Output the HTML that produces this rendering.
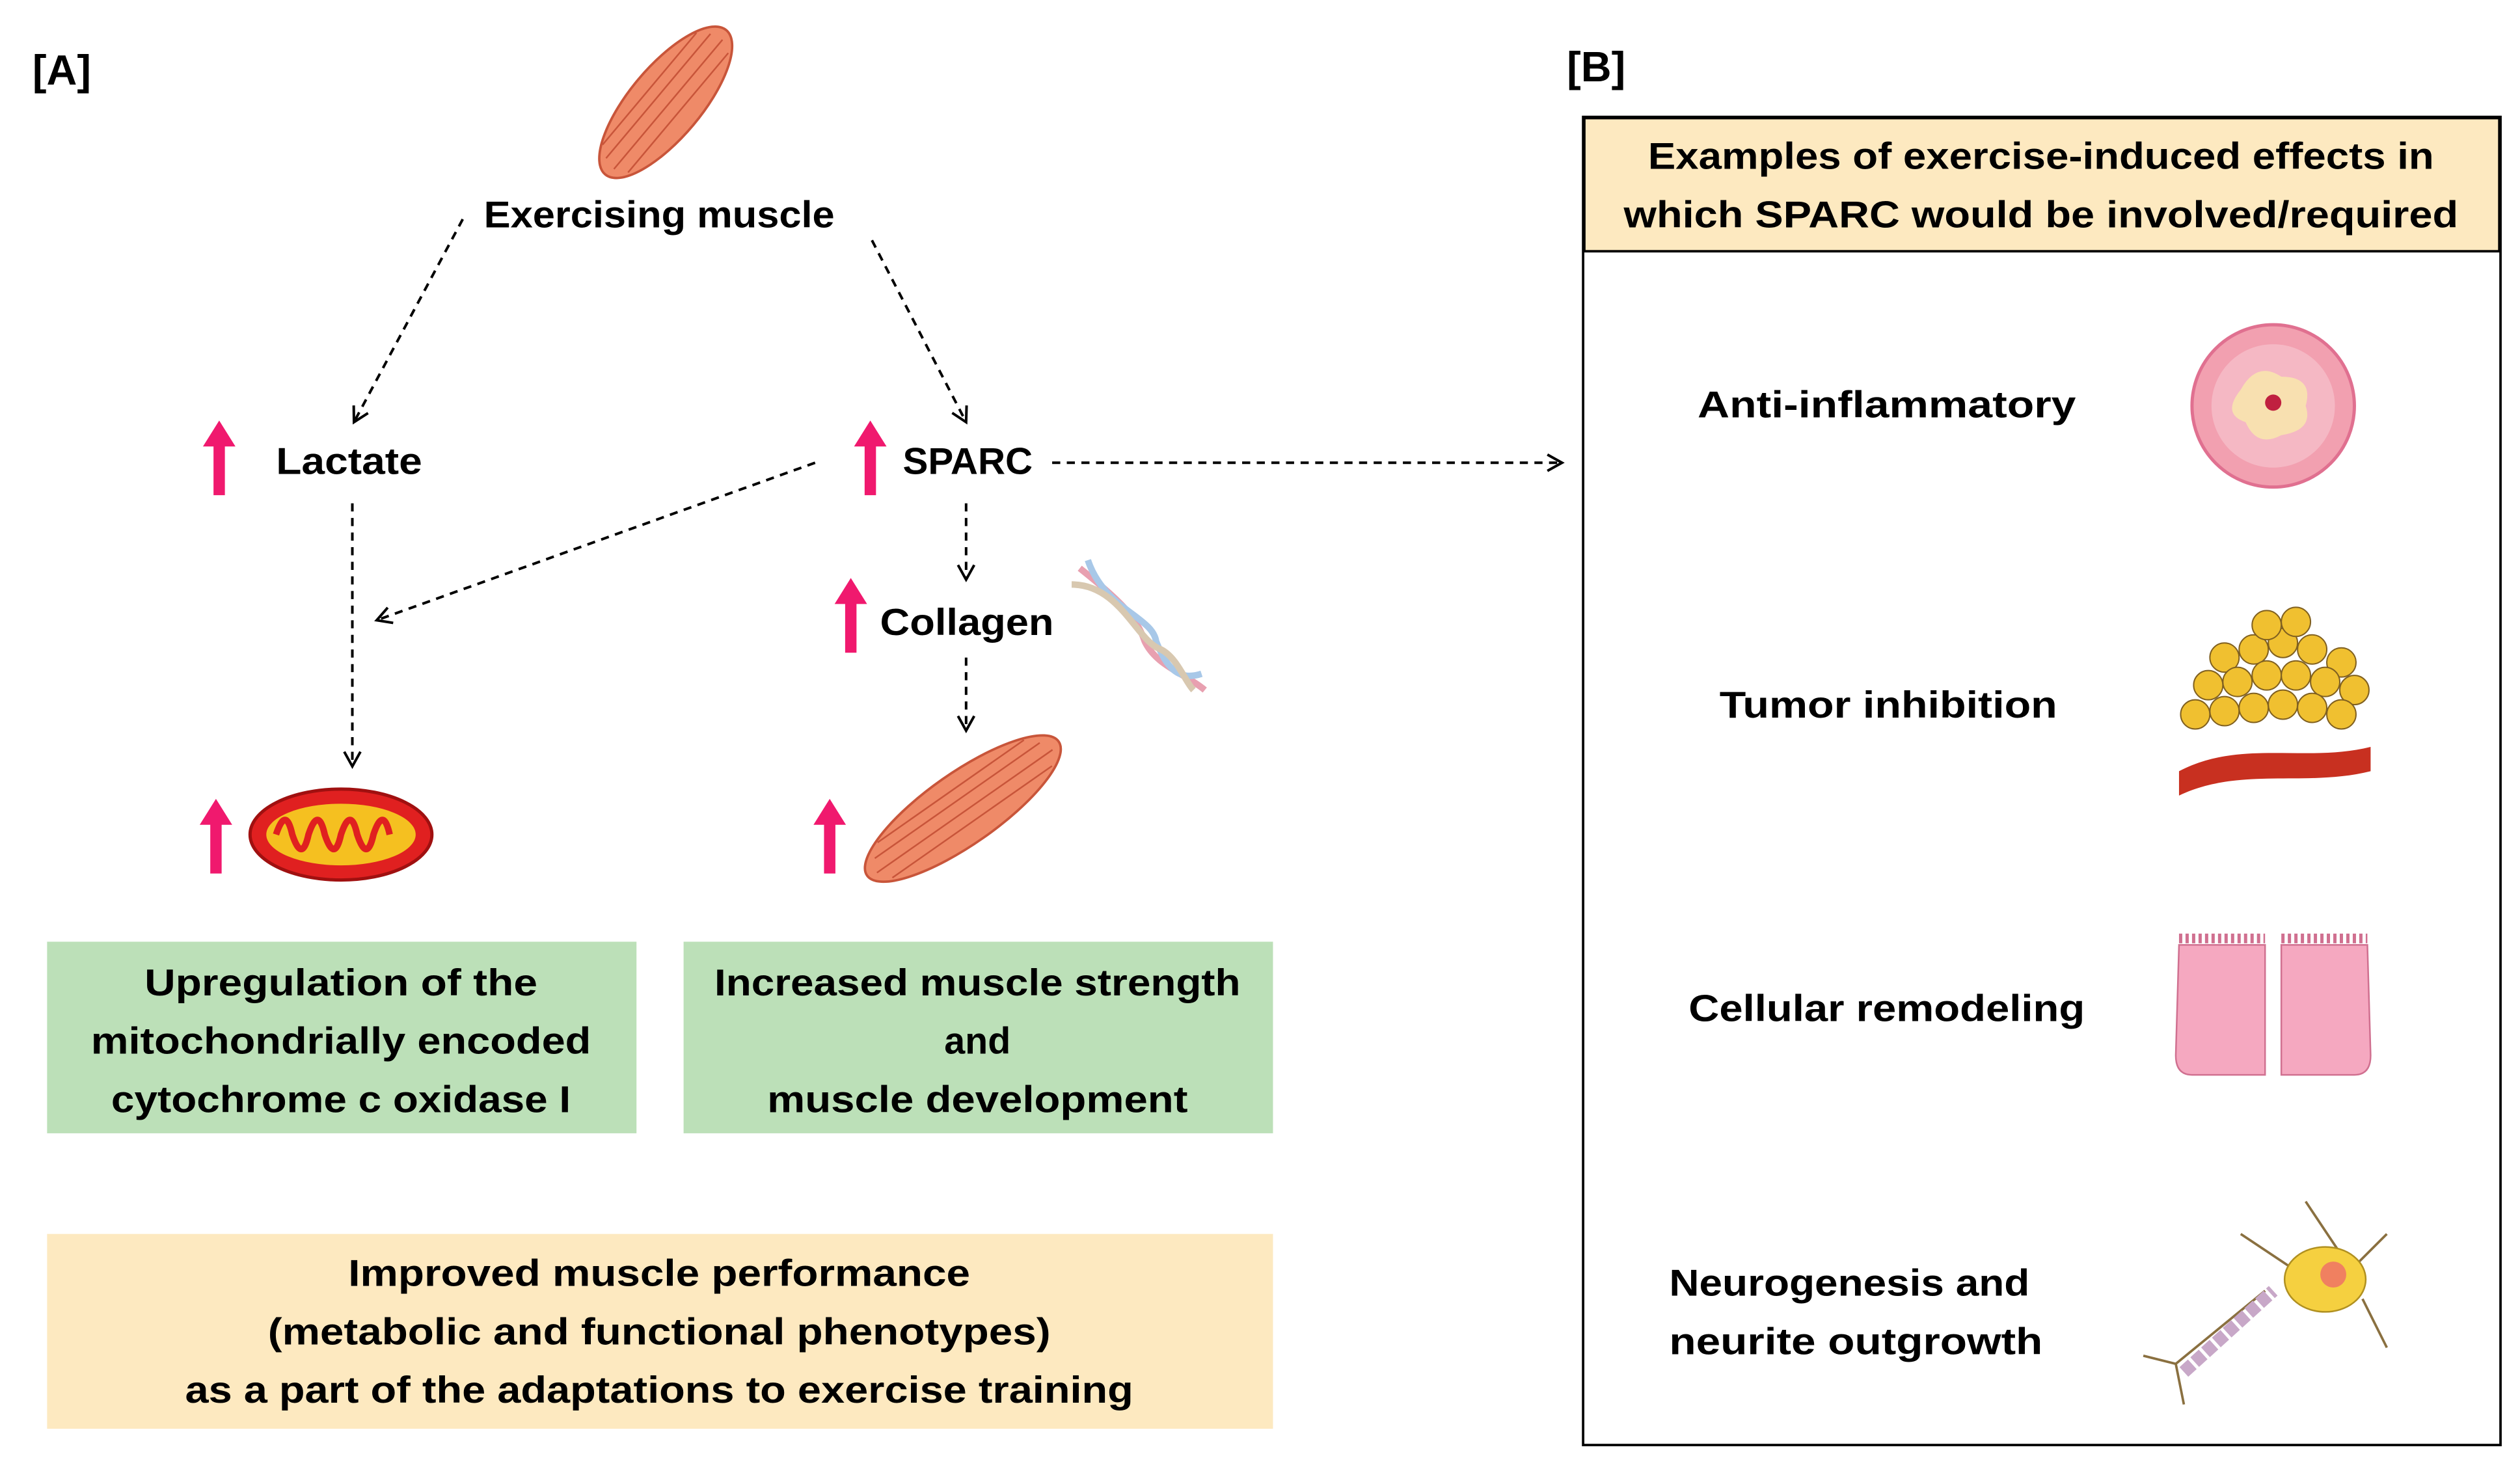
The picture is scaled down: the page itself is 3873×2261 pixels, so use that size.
<!DOCTYPE html>
<html><head><meta charset="utf-8"><style>
html,body{margin:0;padding:0;background:#fff;}
svg{display:block;}
text{font-family:"Liberation Sans",sans-serif;font-weight:bold;fill:#000;}
</style></head><body>
<svg width="3873" height="2261" viewBox="0 0 1552 906" preserveAspectRatio="none" xmlns="http://www.w3.org/2000/svg">
<defs>
<marker id="ah" markerWidth="12" markerHeight="12" refX="10" refY="6" orient="auto" markerUnits="userSpaceOnUse">
<path d="M1,1 L10,6 L1,11" fill="none" stroke="#000" stroke-width="1.6"/></marker>
<g id="pk"><path d="M0,-24 L10,-8 L3.5,-8 L3.5,22 L-3.5,22 L-3.5,-8 L-10,-8 Z" fill="#f0196e"/></g>
</defs>
<rect width="1552" height="906" fill="#fff"/>
<text x="20" y="52" font-size="26">[A]</text>
<text x="965" y="50" font-size="26">[B]</text>
<!-- top muscle -->
<g transform="translate(410,63) rotate(-50)">
<ellipse cx="0" cy="0" rx="58" ry="22" fill="#ef8a68" stroke="#c8553a" stroke-width="1.5"/>
<path d="M-50,-6 L50,-6 M-52,2 L52,2 M-48,10 L48,10 M-45,-13 L45,-13" stroke="#c8553a" stroke-width="1"/>
</g>
<text x="406" y="140" font-size="23" text-anchor="middle" textLength="216" lengthAdjust="spacingAndGlyphs">Exercising muscle</text>
<g stroke="#000" stroke-width="1.6" stroke-dasharray="5,4" fill="none" marker-end="url(#ah)">
<line x1="285" y1="135" x2="218" y2="260"/>
<line x1="537" y1="148" x2="595" y2="260"/>
<line x1="648" y1="285" x2="962" y2="285"/>
<line x1="502" y1="285" x2="232" y2="382"/>
<line x1="217" y1="310" x2="217" y2="472"/>
<line x1="595" y1="310" x2="595" y2="357"/>
<line x1="595" y1="405" x2="595" y2="450"/>
</g>
<use href="#pk" x="135" y="283"/>
<text x="170" y="292" font-size="23" textLength="90" lengthAdjust="spacingAndGlyphs">Lactate</text>
<use href="#pk" x="536" y="283"/>
<text x="556" y="292" font-size="23" textLength="80" lengthAdjust="spacingAndGlyphs">SPARC</text>
<use href="#pk" x="524" y="380"/>
<text x="542" y="391" font-size="23" textLength="107" lengthAdjust="spacingAndGlyphs">Collagen</text>
<!-- collagen -->
<g stroke-width="4" fill="none">
<path d="M665,350 C690,370 700,380 705,395 C712,410 730,415 742,425" stroke="#e8a0b0"/>
<path d="M670,345 C680,375 710,380 712,395 C718,410 725,420 740,415" stroke="#a8c8e8"/>
<path d="M660,360 C690,360 700,395 715,400 C725,405 730,420 735,425" stroke="#d8c8b0"/>
</g>
<use href="#pk" x="133" y="516"/>
<ellipse cx="210" cy="514" rx="56" ry="28" fill="#e02020" stroke="#a01010" stroke-width="2"/>
<ellipse cx="210" cy="514" rx="46" ry="19" fill="#f5c020"/>
<path d="M170,514 q6,-18 10,0 q6,18 10,0 q6,-18 10,0 q6,18 10,0 q6,-18 10,0 q6,18 10,0 q6,-18 10,0" stroke="#e02020" stroke-width="4" fill="none"/>
<use href="#pk" x="511" y="516"/>
<g transform="translate(593,498) rotate(-35)">
<ellipse cx="0" cy="0" rx="72" ry="22" fill="#ef8a68" stroke="#c8553a" stroke-width="1.5"/>
<path d="M-62,-6 L62,-6 M-66,2 L66,2 M-60,10 L60,10 M-55,-13 L55,-13" stroke="#c8553a" stroke-width="1"/>
</g>
<rect x="29" y="580" width="363" height="118" fill="#bce0b8"/>
<rect x="421" y="580" width="363" height="118" fill="#bce0b8"/>
<g font-size="23" text-anchor="middle">
<text x="210" y="613" textLength="242" lengthAdjust="spacingAndGlyphs">Upregulation of the</text>
<text x="210" y="649" textLength="308" lengthAdjust="spacingAndGlyphs">mitochondrially encoded</text>
<text x="210" y="685" textLength="283" lengthAdjust="spacingAndGlyphs">cytochrome c oxidase I</text>
<text x="602" y="613" textLength="324" lengthAdjust="spacingAndGlyphs">Increased muscle strength</text>
<text x="602" y="649">and</text>
<text x="602" y="685" textLength="259" lengthAdjust="spacingAndGlyphs">muscle development</text>
</g>
<rect x="29" y="760" width="755" height="120" fill="#fde9c0"/>
<g font-size="23" text-anchor="middle">
<text x="406" y="792" textLength="383" lengthAdjust="spacingAndGlyphs">Improved muscle performance</text>
<text x="406" y="828" textLength="482" lengthAdjust="spacingAndGlyphs">(metabolic and functional phenotypes)</text>
<text x="406" y="864" textLength="584" lengthAdjust="spacingAndGlyphs">as a part of the adaptations to exercise training</text>
</g>
<!-- B -->
<rect x="975" y="72" width="565" height="818" fill="#fff" stroke="#000" stroke-width="1.5"/>
<rect x="975.75" y="72.75" width="563.5" height="82" fill="#fde9c0" stroke="#000" stroke-width="1.5"/>
<g font-size="23" text-anchor="middle">
<text x="1257" y="104" textLength="484" lengthAdjust="spacingAndGlyphs">Examples of exercise-induced effects in</text>
<text x="1257" y="140" textLength="514" lengthAdjust="spacingAndGlyphs">which SPARC would be involved/required</text>
<text x="1162" y="257" textLength="233" lengthAdjust="spacingAndGlyphs">Anti-inflammatory</text>
<text x="1163" y="442" textLength="208" lengthAdjust="spacingAndGlyphs">Tumor inhibition</text>
<text x="1162" y="629" textLength="244" lengthAdjust="spacingAndGlyphs">Cellular remodeling</text>
</g>
<text x="1028" y="798" font-size="23" textLength="222" lengthAdjust="spacingAndGlyphs">Neurogenesis and</text>
<text x="1028" y="834" font-size="23" textLength="230" lengthAdjust="spacingAndGlyphs">neurite outgrowth</text>
<circle cx="1400" cy="250" r="50" fill="#f2a0b0" stroke="#e07090" stroke-width="2"/>
<circle cx="1400" cy="250" r="38" fill="#f5b8c4"/>
<path d="M1380,240 q10,-18 25,-8 q20,0 15,18 q5,15 -15,18 q-15,8 -22,-8 q-15,-5 -3,-20z" fill="#f8e0b0"/>
<circle cx="1400" cy="248" r="5" fill="#c02040"/>
<!-- tumor -->
<path d="M1342,475 C1380,455 1420,470 1460,460 L1460,475 C1420,485 1380,472 1342,490 Z" fill="#c83020"/>
<g fill="#f0c030" stroke="#806020" stroke-width="0.8">
<circle cx="1370" cy="405" r="9"/><circle cx="1388" cy="400" r="9"/><circle cx="1406" cy="396" r="9"/><circle cx="1424" cy="400" r="9"/><circle cx="1442" cy="408" r="9"/>
<circle cx="1360" cy="422" r="9"/><circle cx="1378" cy="420" r="9"/><circle cx="1396" cy="416" r="9"/><circle cx="1414" cy="416" r="9"/><circle cx="1432" cy="420" r="9"/><circle cx="1450" cy="425" r="9"/>
<circle cx="1352" cy="440" r="9"/><circle cx="1370" cy="438" r="9"/><circle cx="1388" cy="436" r="9"/><circle cx="1406" cy="434" r="9"/><circle cx="1424" cy="436" r="9"/><circle cx="1442" cy="440" r="9"/>
<circle cx="1396" cy="385" r="9"/><circle cx="1414" cy="383" r="9"/>
</g>
<!-- cellular -->
<path d="M1342,582 L1395,582 L1395,662 L1350,662 Q1340,662 1340,650 Z" fill="#f5a8c0" stroke="#d07090"/>
<path d="M1405,582 L1458,582 L1460,650 Q1460,662 1450,662 L1405,662 Z" fill="#f5a8c0" stroke="#d07090"/>
<path d="M1342,578 h53 M1405,578 h53" stroke="#d07090" stroke-width="6" stroke-dasharray="2,2"/>
<!-- neuron -->
<g stroke="#8a7040" stroke-width="1.5" fill="none">
<path d="M1395,795 L1340,840 M1440,770 L1420,740 M1450,780 L1470,760 M1455,800 L1470,830 M1410,780 L1380,760 M1340,840 L1320,835 M1340,840 L1345,865"/>
</g>
<path d="M1345,845 L1400,795" stroke="#c8a8c8" stroke-width="8" stroke-dasharray="7,2"/>
<ellipse cx="1432" cy="788" rx="25" ry="20" fill="#f5d040" stroke="#b09020"/>
<circle cx="1437" cy="785" r="8" fill="#f08060"/>
</svg>
</body></html>
